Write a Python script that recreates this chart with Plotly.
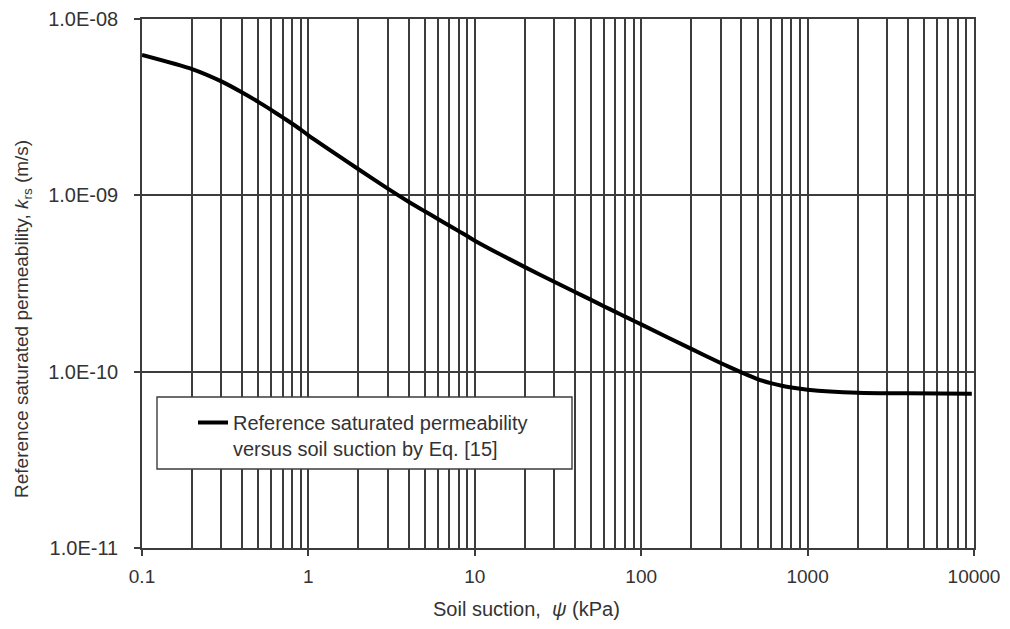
import plotly.graph_objects as go

# Data
psi_kpa = [0.1, 0.2, 0.3, 0.4, 0.5, 0.6, 0.7, 0.8, 0.9, 1, 2, 3, 4, 5, 6, 7, 8, 9, 10,
           20, 30, 40, 50, 60, 70, 80, 90, 100, 200, 300, 400, 500, 600, 700, 800,
           1000, 2000, 4000, 9700]
log_krs = [-8.204, -8.284, -8.354, -8.417, -8.470, -8.517, -8.558, -8.594, -8.627, -8.660,
           -8.852, -8.962, -9.036, -9.090, -9.134, -9.171, -9.203, -9.231, -9.257,
           -9.407, -9.490, -9.548, -9.593, -9.630, -9.661, -9.688, -9.711, -9.732,
           -9.871, -9.951, -10.004, -10.042, -10.065, -10.080, -10.090,
           -10.102, -10.119, -10.123, -10.125]
k_rs = [10 ** v for v in log_krs]

x_tickvals = [0.1, 1, 10, 100, 1000, 10000]
x_ticktext = ["0.1", "1", "10", "100", "1000", "10000"]
y_tickvals = [1e-11, 1e-10, 1e-9, 1e-8]
y_ticktext = ["1.0E-11", "1.0E-10", "1.0E-09", "1.0E-08"]

legend_name = "Reference saturated permeability<br>versus soil suction by Eq. [15]"

OFF = 8  # page body margin
W, H = 994, 613
# target plot area in window pixels: x 142..974, y 19..548
ML, MT = 142 - OFF, 19 - OFF
MR = OFF + W - 974
MB = OFF + H - 548
PW, PH = W - ML - MR, H - MT - MB


def px(xp):
    return (xp - OFF - ML) / PW


def py(yp):
    return (OFF + H - MB - yp) / PH


FONT = "Liberation Sans, Arial, sans-serif"
GRID = "#3c3c3c"
TXT = "#333333"

fig = go.Figure()
fig.add_trace(go.Scatter(
    x=psi_kpa, y=k_rs, mode="lines", name=legend_name,
    line=dict(color="black", width=4, shape="spline", smoothing=0.6),
    showlegend=True,
))

fig.update_layout(
    width=W, height=H,
    margin=dict(l=ML, r=MR, t=MT, b=MB, autoexpand=False),
    paper_bgcolor="white", plot_bgcolor="white",
    font=dict(family=FONT, size=20, color=TXT),
    showlegend=True,
    legend=dict(
        x=px(193), y=py(403), xanchor="left", yanchor="top",
        bgcolor="rgba(0,0,0,0)", borderwidth=0,
        font=dict(family=FONT, size=20, color=TXT),
        valign="top", itemwidth=30,
    ),
    xaxis=dict(
        type="log", range=[-1, 4], automargin=False,
        tickvals=x_tickvals, ticktext=x_ticktext,
        ticks="outside", ticklen=6, tickcolor=GRID, tickwidth=1.5,
        showgrid=True, gridcolor=GRID, gridwidth=1.5,
        minor=dict(dtick="D1", showgrid=True, gridcolor=GRID, gridwidth=1.5, ticks=""),
        showline=True, mirror=True, linecolor=GRID, linewidth=1.6,
        zeroline=False, ticklabelstandoff=4,
        tickfont=dict(family=FONT, size=19, color=TXT),
    ),
    yaxis=dict(
        type="log", range=[-11, -8], automargin=False,
        tickvals=y_tickvals, ticktext=y_ticktext,
        ticks="outside", ticklen=6, tickcolor=GRID, tickwidth=1.5,
        showgrid=True, gridcolor=GRID, gridwidth=1.5,
        showline=True, mirror=True, linecolor=GRID, linewidth=1.6,
        zeroline=False, ticklabelstandoff=12,
        tickfont=dict(family=FONT, size=20, color=TXT),
    ),
    shapes=[dict(
        type="rect", xref="paper", yref="paper",
        x0=px(157), x1=px(572), y0=py(469), y1=py(397),
        fillcolor="white", line=dict(color=GRID, width=1.4), layer="above",
    )],
    annotations=[
        dict(text="Soil suction,  <i>ψ</i> (kPa)", xref="paper", yref="paper",
             x=px(526), y=py(609), xanchor="center", yanchor="middle",
             showarrow=False, font=dict(family=FONT, size=20, color=TXT)),
        dict(text="Reference saturated permeability, <i>k</i><sub>rs</sub> (m/s)",
             xref="paper", yref="paper", x=px(23), y=py(319),
             xanchor="center", yanchor="middle", textangle=-90,
             showarrow=False, font=dict(family=FONT, size=19, color=TXT)),
    ],
)

fig.write_html("out.html")
